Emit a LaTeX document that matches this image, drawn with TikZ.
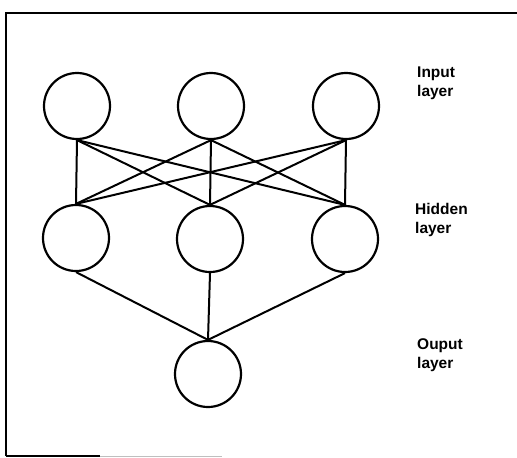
\documentclass[tikz,border=0pt]{standalone}
\usepackage{fontspec}
\setmainfont{Liberation Sans}
\begin{document}
\begin{tikzpicture}[x=1pt,y=-1pt,
  neuron/.style={draw,circle,line width=2.2pt,minimum size=66pt,inner sep=0pt},
  link/.style={line width=2pt},
  lab/.style={anchor=base west,inner sep=0pt,font=\bfseries\fontsize{15.5}{18.5}\selectfont,align=left}]
\useasboundingbox (0,0) rectangle (517,458);
% frame
\draw[line width=1.8pt] (6,456) -- (6,13) -- (517,13);
\draw[line width=1.8pt] (6,456) -- (100,456);
\draw[line width=0.8pt,black!25] (100,456) -- (222,456);
% nodes
\node[neuron] (i1) at (77,106) {};
\node[neuron] (i2) at (211,106) {};
\node[neuron] (i3) at (346,106) {};
\node[neuron] (h1) at (76,238) {};
\node[neuron] (h2) at (210,239) {};
\node[neuron] (h3) at (345,239) {};
\node[neuron] (o) at (208,374) {};
% connections
\foreach \a in {i1,i2,i3}
  \foreach \b in {h1,h2,h3}
    \draw[link] (\a.south) -- (\b.north);
\foreach \b in {h1,h2,h3}
  \draw[link] (\b.south) -- (o.north);
% labels
\node[lab] (li) at (417,96) {Input\\layer};
\node[lab] (lh) at (415,233) {Hidden\\layer};
\node[lab] (lo) at (417,368) {Ouput\\layer};
\end{tikzpicture}
\end{document}
